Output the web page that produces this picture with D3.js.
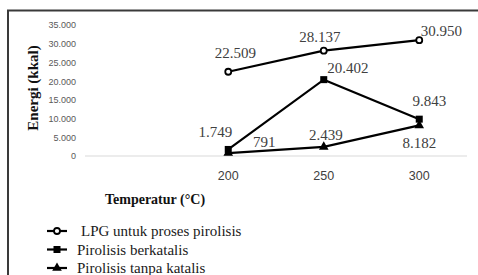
<!DOCTYPE html>
<html>
<head>
<meta charset="utf-8">
<script src="https://cdn.jsdelivr.net/npm/d3@7"></script>
<style>
  body { margin: 0; background: #fff; }
  svg { display: block; }
</style>
</head>
<body>
<div id="wrapper"></div>
<script>
// data
const temps = ["", "200", "250", "300"]
const seriesNames = ["LPG untuk proses pirolisis", "Pirolisis berkatalis", "Pirolisis tanpa katalis"]
const lpg = [22509, 28137, 30950]
const berkatalis = [1749, 20402, 9843]
const tanpaKatalis = [791, 2439, 8182]
const yTicks = [0, 5000, 10000, 15000, 20000, 25000, 30000, 35000]

const fmt = d => d3.format(",")(d).replace(/,/g, ".")

const width = 478, height = 275
const margin = { top: 25, right: 11, bottom: 119, left: 85 }
const boundedWidth = width - margin.left - margin.right
const boundedHeight = height - margin.top - margin.bottom

const svg = d3.select("#wrapper").append("svg")
  .attr("width", width)
  .attr("height", height)

// frame (left + top edges visible)
svg.append("path")
  .attr("d", "M8,275 V10.5 H478")
  .attr("fill", "none")
  .attr("stroke", "#3a3a3a")
  .attr("stroke-width", 2)

const bounds = svg.append("g")
  .attr("transform", `translate(${margin.left},${margin.top})`)

const xScale = d3.scaleBand()
  .domain(temps)
  .range([0, boundedWidth])

const yScale = d3.scaleLinear()
  .domain([0, 35000])
  .range([boundedHeight, 0])

const xPos = (d, i) => xScale(temps[i + 1]) + xScale.bandwidth() / 2

// baseline
bounds.append("line")
  .attr("x1", 0).attr("x2", boundedWidth)
  .attr("y1", yScale(0)).attr("y2", yScale(0))
  .attr("stroke", "#d9d9d9")
  .attr("stroke-width", 1)

// y axis
const yAxis = bounds.append("g")
  .call(d3.axisLeft(yScale).tickValues(yTicks).tickFormat(fmt).tickSize(0).tickPadding(9))
yAxis.select(".domain").remove()
yAxis.selectAll("text")
  .attr("font-family", "'Liberation Sans', sans-serif")
  .attr("font-size", 9)
  .attr("fill", "#595959")

// x axis
const xAxis = bounds.append("g")
  .attr("transform", `translate(0,${boundedHeight})`)
  .call(d3.axisBottom(xScale).tickSize(0).tickPadding(15))
xAxis.select(".domain").remove()
xAxis.selectAll("text")
  .attr("font-family", "'Liberation Sans', sans-serif")
  .attr("font-size", 12.5)
  .attr("fill", "#404040")

// axis titles
svg.append("text")
  .attr("x", 155).attr("y", 204)
  .attr("text-anchor", "middle")
  .attr("font-family", "'Liberation Serif', serif")
  .attr("font-weight", "bold")
  .attr("font-size", 14)
  .attr("fill", "#111")
  .text("Temperatur (°C)")

svg.append("text")
  .attr("transform", "translate(38,88) rotate(-90)")
  .attr("text-anchor", "middle")
  .attr("font-family", "'Liberation Serif', serif")
  .attr("font-weight", "bold")
  .attr("font-size", 15)
  .attr("fill", "#111")
  .text("Energi (kkal)")

const lineGen = d3.line()
  .x((d, i) => xPos(d, i))
  .y(d => yScale(d))

const series = [
  { values: lpg, marker: "circle", labels: [[7, -14], [-4, -9], [22, -4]] },
  { values: berkatalis, marker: "square", labels: [[-13, -12], [24, -7], [10, -13]] },
  { values: tanpaKatalis, marker: "triangle", labels: [[36, -6], [2, -7], [0, 23]] }
]

series.forEach(s => {
  bounds.append("path")
    .attr("d", lineGen(s.values))
    .attr("fill", "none")
    .attr("stroke", "#000")
    .attr("stroke-width", 2.2)
})

function drawMarker(g, type, x, y) {
  if (type === "circle") {
    g.append("circle").attr("cx", x).attr("cy", y).attr("r", 3)
      .attr("fill", "#fff").attr("stroke", "#000").attr("stroke-width", 1.8)
  } else if (type === "square") {
    g.append("rect").attr("x", x - 3.5).attr("y", y - 3.5).attr("width", 7).attr("height", 7)
      .attr("fill", "#000")
  } else {
    g.append("path")
      .attr("d", d3.symbol(d3.symbolTriangle, 40)())
      .attr("transform", `translate(${x},${y})`)
      .attr("fill", "#000")
  }
}

series.forEach(s => {
  s.values.forEach((v, i) => {
    drawMarker(bounds, s.marker, xPos(v, i), yScale(v))
  })
})

series.forEach(s => {
  s.values.forEach((v, i) => {
    bounds.append("text")
      .attr("x", xPos(v, i) + s.labels[i][0])
      .attr("y", yScale(v) + s.labels[i][1])
      .attr("text-anchor", "middle")
      .attr("font-family", "'Liberation Serif', serif")
      .attr("font-size", 15)
      .attr("fill", "#404040")
      .text(fmt(v))
  })
})

// legend
const legend = svg.append("g")
seriesNames.forEach((name, i) => {
  const y = 231 + i * 18.5
  legend.append("line")
    .attr("x1", 47).attr("x2", 67)
    .attr("y1", y).attr("y2", y)
    .attr("stroke", "#000").attr("stroke-width", 2.2)
  drawMarker(legend, series[i].marker, 57, y)
  legend.append("text")
    .attr("x", i === 0 ? 81 : 77)
    .attr("y", y)
    .attr("dy", "0.35em")
    .attr("font-family", "'Liberation Serif', serif")
    .attr("font-size", 15)
    .attr("fill", "#1a1a1a")
    .text(name)
})
</script>
</body>
</html>
